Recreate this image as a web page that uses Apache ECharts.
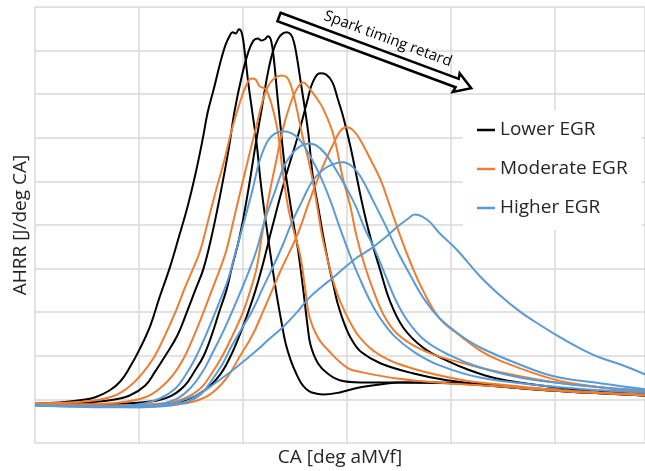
<!DOCTYPE html>
<html>
<head>
<meta charset="utf-8">
<script src="https://cdn.jsdelivr.net/npm/echarts@6/dist/echarts.min.js"></script>
<style>html,body{margin:0;padding:0;background:#fff;}#chart{width:645px;height:471px;}</style>
</head>
<body>
<div id="chart"></div>
<script>
// Axis / category info
const xAxisName = 'CA [deg aMVf]';
const yAxisName = 'AHRR [J/deg CA]';
const groupNames = ['Lower EGR', 'Moderate EGR', 'Higher EGR'];
const groupColors = ['#000000', '#ED7D31', '#5B9BD5'];

// Lower EGR (black), spark timing retard left -> right
const lower1 = [[0,-0.9],[2.4,-0.7],[4.3,-0.2],[5.8,0.5],[7.2,2.1],[8.2,4.1],[9.1,7.3],[10.1,11.7],[11.1,17],[12,23.6],[13,30.5],[13.9,37.8],[14.7,44.5],[15.4,51.4],[16.1,59.4],[16.6,65.8],[17.2,71.3],[17.8,77.1],[18.3,81.2],[18.7,83.3],[19,84.2],[19.3,83.9],[19.6,84.9],[19.9,83.9],[20.2,78.9],[20.5,72.7],[20.9,65.8],[21.3,58.9],[21.7,49.8],[22.2,40.6],[22.7,32.3],[23.2,24.5],[23.7,17.7],[24.1,12.8],[24.6,8.9],[25.1,6],[25.6,3.7],[26.1,2.3],[26.6,1.6],[27.7,1.1],[29.3,1.6],[31.3,2.8],[33.2,3.4],[35.1,3.9],[38,3.9],[41.2,3.7],[44.4,3],[49.2,2.1],[54.3,1.4],[58.7,0.9]];
const lower2 = [[0,-0.9],[4.3,-0.7],[7.2,-0.2],[9.1,0.9],[10.6,3.2],[11.5,6.2],[12.5,9.9],[13.7,14.7],[14.6,20],[15.4,25],[16.2,30],[17,37.6],[17.8,46.8],[18.6,57.1],[19.2,66.3],[19.9,74.3],[20.5,79.6],[21,82.3],[21.4,82.8],[21.8,82.3],[22.1,82.6],[22.4,83.3],[22.7,82.3],[23,77.3],[23.3,69.7],[23.6,62.8],[24,53.7],[24.5,45.6],[25,38.3],[25.3,34.2],[25.8,25],[26.2,17],[26.5,12.4],[27.2,8.3],[28.1,6],[29.3,4.4],[31.3,3.9],[35.1,3.9],[39.9,3.7],[44.4,3],[49.2,2.1],[54.3,1.4],[58.7,0.9]];
const lower3 = [[0,-0.9],[6.3,-1.1],[11.1,-0.5],[13,0.7],[14.4,3.2],[15.4,6.7],[16.2,9.9],[17,14.8],[17.7,20],[18.4,25],[18.9,30],[19.7,37.6],[20.5,47.9],[21.2,58.3],[21.8,66.7],[22.4,75],[22.9,80],[23.4,82.8],[23.8,83.9],[24.2,84.2],[24.6,83.7],[24.9,81.9],[25.2,78.2],[25.6,72],[26,65.8],[26.3,60.6],[26.7,51.4],[27.2,44.5],[27.7,37.6],[28.2,31.4],[28.7,26.1],[29.1,22],[29.8,17],[30.5,13.5],[31.4,10.8],[33.2,8.3],[36.3,6],[39.6,4.4],[44.4,3.2],[49.2,2.3],[54.3,1.6],[58.7,1.1]];
const lower4 = [[0,-0.9],[8.2,-1.4],[12,-1.1],[14.4,-0.2],[16.3,2.1],[17.8,5.7],[18.8,9.9],[19.7,14.9],[20.5,20],[21.2,25],[21.8,30],[22.8,39.4],[24,50.2],[25.3,60.6],[26.2,68.6],[26.7,72.7],[27.4,74.8],[28,74.5],[28.6,72.7],[29.1,69],[29.6,65.1],[30.3,58.3],[31,50.2],[31.5,44.5],[32.2,37.6],[33.2,29.6],[34.1,22.7],[35.4,16.5],[37.3,11.9],[39.6,8.9],[41.8,6.7],[44.4,4.8],[49.2,3],[54.3,1.8],[58.7,1.1]];

// Moderate EGR (orange)
const moderate1 = [[0,-0.9],[3.4,-0.7],[5.8,-0.2],[7.7,0.9],[9.1,3],[10.4,6.2],[11.5,9.9],[12.5,14.7],[13.5,20],[14.4,25.5],[15.2,30],[15.9,34.2],[16.6,40.6],[17.4,47.9],[18.2,54.8],[18.9,61.7],[19.7,68.1],[20.3,72],[20.8,73.6],[21.2,73.4],[21.6,71.8],[22.1,71.3],[22.4,70.2],[22.9,66.3],[23.4,60.6],[23.8,52.5],[24.4,43.3],[25,37.6],[25.5,33],[26,25],[26.4,18.8],[27.2,14.2],[28.1,11.5],[30,7.3],[31.5,6.2],[34.8,4.8],[39.6,3.7],[44.4,3],[49.2,2.1],[54.3,1.4],[58.7,0.9]];
const moderate2 = [[0,-0.9],[4.3,-1.1],[8.2,-0.7],[10.6,0.5],[12,2.5],[13.3,5.7],[14.4,9.9],[15.3,14.7],[16.2,20],[17,25],[17.8,30],[18.4,34.2],[19.2,42.2],[20,50.2],[20.7,57.1],[21.3,62.8],[21.9,68.6],[22.4,71.8],[23,73.6],[23.7,74.3],[24.2,73.9],[24.7,71.3],[25.2,66.3],[25.7,60.6],[26.3,54.8],[26.7,50.2],[27.2,43.3],[27.6,37.6],[28.2,31.4],[28.8,26.1],[29.3,22.7],[30.3,17.7],[31.3,14],[33.2,10.1],[36.3,7.1],[41.2,4.4],[44.7,3.4],[49.5,2.3],[54.3,1.6],[58.7,1.1]];
const moderate3 = [[0,-0.9],[6.3,-1.4],[11.1,-1.1],[13.9,-0.2],[15.9,2.5],[17,6],[18,9.9],[19,14.7],[20,20],[20.7,25],[21.3,30],[21.9,38.8],[22.6,47.9],[23.2,54.8],[23.8,61.7],[24.5,67.4],[25.2,71.3],[25.8,72.7],[26.4,71.3],[27.1,69],[27.7,66.7],[28.7,60.6],[29.6,50.7],[30.3,44.5],[30.9,37.6],[31.7,30.7],[32.7,23.9],[33.7,18.6],[34.8,15.1],[36.5,12.2],[38.5,10.1],[41.2,8.3],[44.4,6.4],[49.5,4.1],[54.3,2.8],[58.7,1.8]];
const moderate4 = [[0,-1.1],[6.3,-1.4],[12,-1.4],[14.9,-0.7],[16.8,1.1],[18.4,4.8],[19.7,9.9],[20.9,14.7],[21.9,20],[22.8,25],[23.7,30],[25.2,37.6],[26.4,45.6],[27.6,53],[28.7,58.7],[29.4,61.7],[30,62.4],[30.6,61.7],[31.3,59.4],[32.2,55.3],[33.2,50.5],[34.1,44.5],[35.1,37.6],[36.1,31.4],[37.3,25],[38.9,18.6],[41.2,14],[42.8,11.2],[44.7,8.9],[49.9,4.6],[54.3,2.8],[58.7,1.6]];

// Higher EGR (blue)
const higher1 = [[0,-1.4],[6.3,-1.6],[10.1,-1.1],[12,0.2],[13.5,2.5],[14.4,5.3],[15.4,9.4],[16.3,14],[17.1,18.6],[17.8,22.7],[18.6,27.8],[19.2,33],[20,39.9],[20.9,47.9],[21.6,54.8],[22.4,59.4],[23.1,61],[23.8,61.5],[24.7,61],[25.5,59.4],[26.4,56],[27.4,51.4],[28.4,45.6],[29.3,39.4],[30.3,33],[31.3,27.3],[32.2,22.7],[33.2,18.6],[34.6,14.4],[36.5,10.8],[38.9,7.8],[42.8,5],[49.5,3],[54.3,2.1],[58.7,1.6]];
const higher2 = [[0,-1.4],[6.3,-1.6],[11.1,-1.4],[13.5,0],[14.9,2.5],[16.2,6.7],[17.1,10.8],[18,15.1],[18.8,19.3],[19.5,23.2],[20.4,28.4],[21.3,34.2],[22.1,41.1],[23.1,47.9],[24,53.7],[25,57.1],[25.7,58.3],[26.3,58.7],[27,58.3],[27.9,56.4],[28.8,53.2],[29.8,49.1],[30.8,44.5],[31.7,39.2],[32.7,34.2],[33.7,28.4],[34.6,23.2],[35.8,18.1],[37.5,13.5],[39.9,10.1],[42.8,7.3],[46.6,5],[49.9,3.9],[54.3,2.8],[58.7,2.1]];
const higher3 = [[0,-1.4],[7.2,-1.8],[12,-1.6],[14.4,-0.7],[15.9,1.1],[17,4.4],[18,8],[18.9,12.2],[19.9,16.3],[20.9,20.4],[21.8,25],[22.8,30],[23.8,35.3],[24.7,40.6],[25.7,45.6],[26.6,49.8],[27.6,52.5],[28.6,53.9],[29.6,54.4],[30.5,53.4],[31.4,50.7],[32.5,45.6],[33.7,39.9],[34.8,34.2],[36.1,28.4],[37.5,22.7],[38.9,18.6],[40.9,14.7],[42.8,11.9],[46.6,8],[49.9,5.3],[54.3,3.7],[58.7,2.3]];
const higher4 = [[0,-1.4],[6.3,-1.6],[10.1,-1.8],[13,-1.1],[14.4,0],[15.9,1.4],[17.3,3.7],[19,6.7],[20.4,9.4],[21.3,11.2],[22.6,14],[23.8,16.5],[25.2,20],[26.4,23.4],[27.6,25.9],[28.7,28],[29.8,30.3],[31,32.6],[32.2,34.4],[33.7,37.2],[34.9,39.7],[35.9,41.5],[36.5,42.4],[37.2,42],[38,40.6],[38.9,38.1],[40.6,34.2],[42.8,28.2],[44.7,23.9],[46.6,20.2],[48.6,17],[50.5,14.2],[52.4,11.7],[54.3,9.6],[56.3,8],[58.7,5.7]];

const groups = [
  [lower1, lower2, lower3, lower4],
  [moderate1, moderate2, moderate3, moderate4],
  [higher1, higher2, higher3, higher4]
];

const series = [];
groups.forEach((g, gi) => {
  g.forEach(d => {
    series.push({
      name: groupNames[gi],
      type: 'line',
      data: d,
      smooth: 0.4,
      showSymbol: false,
      symbol: 'none',
      lineStyle: { color: groupColors[gi], width: 2 },
      itemStyle: { color: groupColors[gi] },
      z: 2
    });
  });
});

const FONT = '"Open Sans", Lato, sans-serif';
const chart = echarts.init(document.getElementById('chart'), null, { renderer: 'canvas' });
const ang = -0.355;
chart.setOption({
  animation: false,
  backgroundColor: '#ffffff',
  grid: { left: 35, right: 0, top: 7, bottom: 28, containLabel: false, outerBoundsMode: 'none' },
  xAxis: {
    type: 'value', min: 0, max: 58.65, interval: 10,
    name: xAxisName, nameLocation: 'middle', nameGap: 5,
    nameTextStyle: { fontSize: 19, color: '#262626', fontFamily: FONT },
    axisLine: { show: false }, axisTick: { show: false }, axisLabel: { show: false },
    splitLine: { show: true, lineStyle: { color: '#d9d9d9', width: 1.5 } }
  },
  yAxis: {
    type: 'value', min: -10, max: 90, interval: 10,
    name: yAxisName, nameLocation: 'middle', nameGap: 5,
    nameTextStyle: { fontSize: 19, color: '#262626', fontFamily: FONT },
    axisLine: { show: false }, axisTick: { show: false }, axisLabel: { show: false },
    splitLine: { show: true, lineStyle: { color: '#d9d9d9', width: 1.5 } }
  },
  legend: {
    data: groupNames,
    orient: 'vertical',
    left: 463, top: 110,
    padding: [9, 14, 11, 14],
    backgroundColor: '#ffffff',
    icon: 'rect', itemWidth: 18, itemHeight: 2.5, itemGap: 17,
    textStyle: { fontSize: 19, color: '#262626', fontFamily: FONT, lineHeight: 22 },
    z: 10
  },
  graphic: [
    {
      type: 'polygon', x: 279, y: 17, rotation: ang, z: 100,
      shape: { points: [[0,-4.5],[190,-4.5],[189,-10],[205,0],[189,10],[190,4.5],[0,4.5]] },
      style: { fill: '#ffffff', stroke: '#000000', lineWidth: 2.5 }
    },
    {
      type: 'text', x: 388, y: 39, rotation: ang, z: 100,
      style: { text: 'Spark timing retard', fontSize: 15, fontFamily: FONT, fill: '#000000',
               align: 'center', verticalAlign: 'middle', textAlign: 'center', textVerticalAlign: 'middle' }
    }
  ],
  series: series
});
</script>
</body>
</html>
